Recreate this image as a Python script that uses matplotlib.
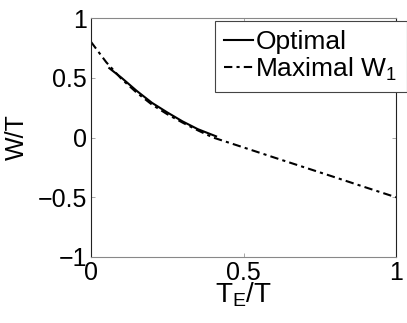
import matplotlib
matplotlib.use('Agg')
import matplotlib.pyplot as plt

#Data
x_max = [0.0, 0.05, 0.1, 0.15, 0.2, 0.25, 0.3, 0.35, 0.4, 0.5, 0.6, 0.7, 0.8, 0.9, 1.0]
w_max = [0.80, 0.63, 0.49, 0.375, 0.275, 0.195, 0.125, 0.06, 0.0,
         -0.083, -0.167, -0.25, -0.333, -0.417, -0.5]
x_opt = [0.06, 0.1, 0.15, 0.2, 0.25, 0.3, 0.35, 0.41]
w_opt = [0.58, 0.50, 0.39, 0.29, 0.21, 0.135, 0.07, 0.01]

xticks = [0, 0.5, 1]
yticks = [-1, -0.5, 0, 0.5, 1]

plt.rcParams['font.family'] = ['Liberation Sans', 'DejaVu Sans']
plt.rcParams['mathtext.fontset'] = 'custom'
plt.rcParams['mathtext.rm'] = 'Liberation Sans'
plt.rcParams['font.size'] = 18

fig = plt.figure(figsize=(4.07, 3.23), dpi=100)
ax = fig.add_axes([91/407, 1-257/323, 305/407, 239/323])

ax.plot(x_opt, w_opt, color='black', lw=1.5, ls='-', label='Optimal')
ax.plot(x_max, w_max, color='black', lw=1.5, ls=(0, (4, 2, 1.5, 2)), label='Maximal W$_1$')

ax.set_xlim(0, 1)
ax.set_ylim(-1, 1)
ax.set_xticks(xticks)
ax.set_xticklabels(['0', '0.5', '1'])
ax.set_yticks(yticks)
ax.set_yticklabels(['\u22121', '\u22120.5', '0', '0.5', '1'])
ax.tick_params(direction='in', length=3, width=0.6, color='#999999',
               top=True, right=True, pad=3)

for side in ['top', 'bottom']:
    ax.spines[side].set_color('#888888')
for side in ['left', 'right']:
    ax.spines[side].set_color('#222222')
for s in ax.spines.values():
    s.set_linewidth(0.8)

ax.set_xlabel('$\\mathregular{T_E/T}$', fontsize=20)
ax.xaxis.set_label_coords(0.5, -0.10)
ax.set_ylabel('W/T')
ax.yaxis.set_label_coords(-0.205, 0.5)

leg = ax.legend(loc='upper left', bbox_to_anchor=(0.405, 0.987), borderaxespad=0,
                fancybox=False, framealpha=1, edgecolor='#444444', fontsize=19,
                handlelength=1.1, handletextpad=0.1, labelspacing=0.05,
                borderpad=0.35)
leg.get_frame().set_linewidth(0.8)

fig.savefig('out.png', dpi=100)
